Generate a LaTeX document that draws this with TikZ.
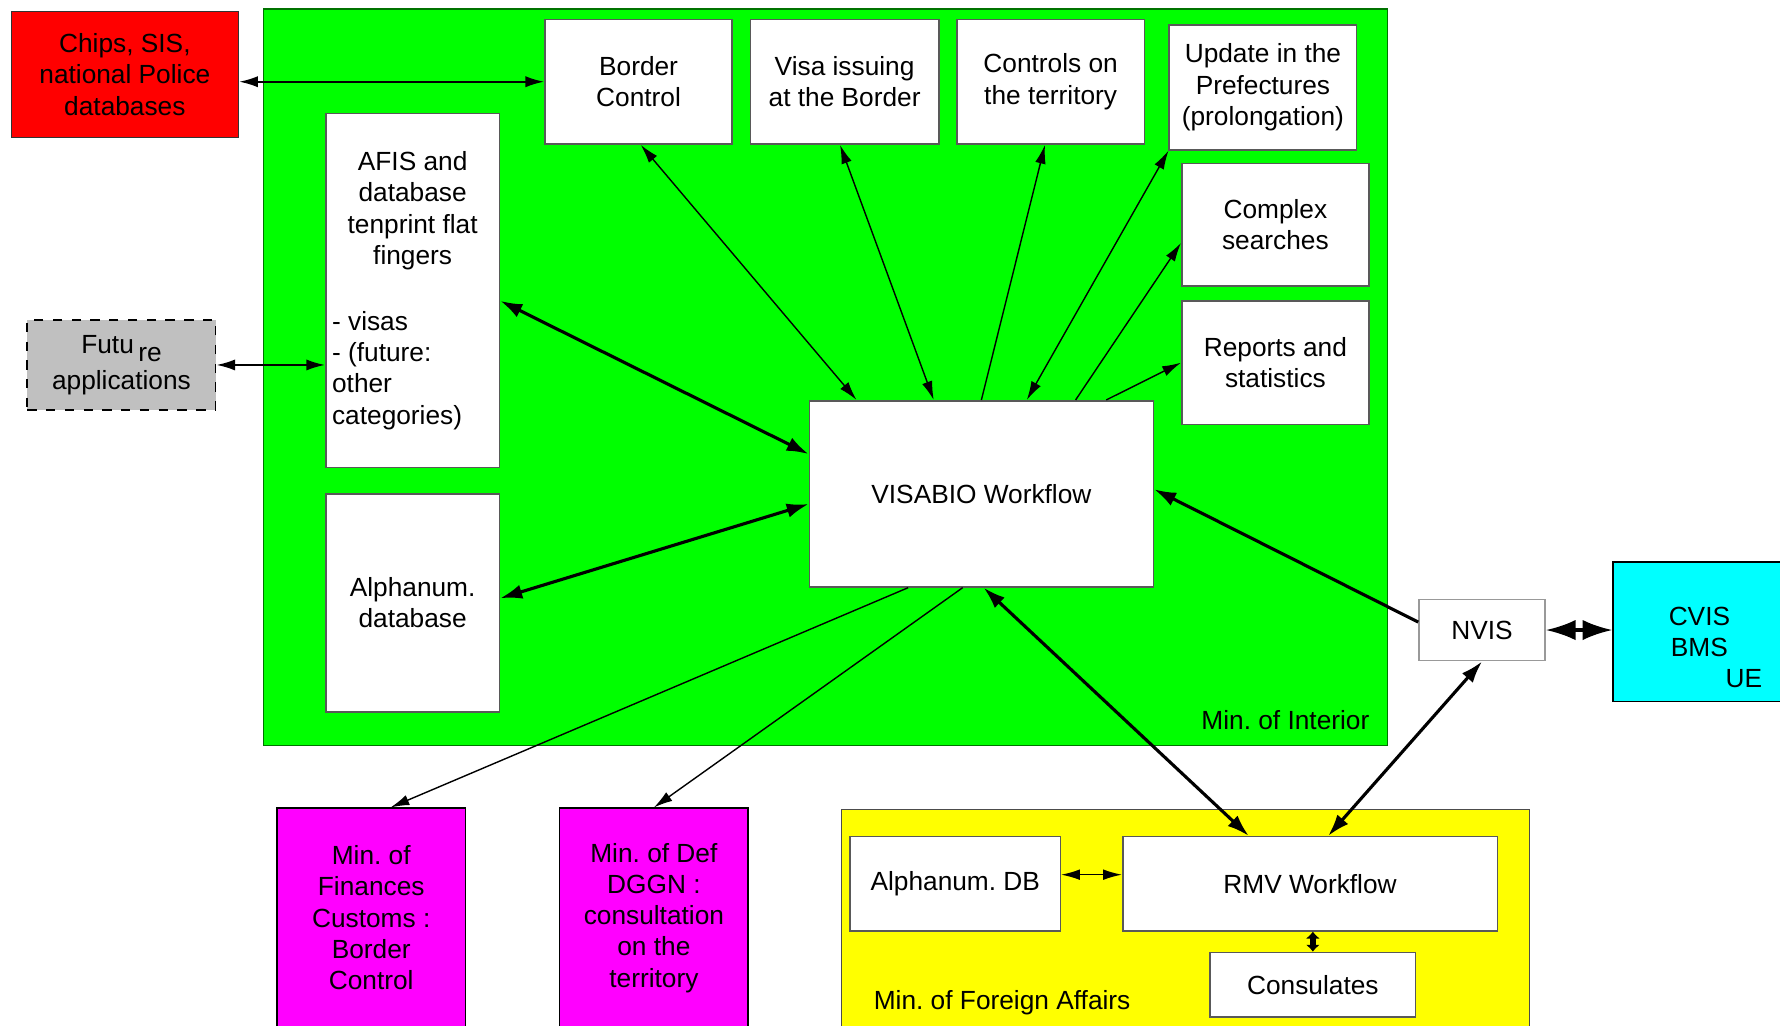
\documentclass[tikz,border=0pt]{standalone}
\usepackage{fontspec}
\setmainfont{Liberation Sans}
\usepackage{tikz}
\usetikzlibrary{arrows.meta,positioning,calc}
\definecolor{intGreen}{RGB}{0,255,0}
\definecolor{maeYellow}{RGB}{255,255,0}
\definecolor{polRed}{RGB}{255,0,0}
\definecolor{defMagenta}{RGB}{255,0,255}
\definecolor{ueCyan}{RGB}{0,255,255}
\definecolor{futGray}{RGB}{192,192,192}
\newcommand{\pxl}{0.3629pt}
\frenchspacing

\begin{document}
\begin{tikzpicture}[x=\pxl,y=-\pxl,
font=\fontsize{8.4}{10}\selectfont,
box/.style={draw=black!65,fill=white,align=center,inner sep=2pt,line width=0.5pt},
sz/.style 2 args={minimum width=#1*\pxl,minimum height=#2*\pxl},
dbl/.style={{Latex[length=6pt,width=3.4pt]}-{Latex[length=6pt,width=3.4pt]},line width=0.45pt},
sgl/.style={-{Latex[length=6pt,width=3.4pt]},line width=0.45pt},
mid/.style={{Latex[length=6pt,width=3.6pt]}-{Latex[length=6pt,width=3.6pt]},line width=0.6pt},
thk/.style={{Latex[length=7pt,width=4.6pt]}-{Latex[length=7pt,width=4.6pt]},line width=1pt},
thksgl/.style={-{Latex[length=7pt,width=4.6pt]},line width=1pt},
bigdbl/.style={{Latex[length=9.5pt,width=6.5pt]}-{Latex[length=9.5pt,width=6.5pt]},line width=1pt},
shortdbl/.style={{Latex[length=2.2pt,width=4.6pt]}-{Latex[length=2.2pt,width=4.6pt]},line width=2pt}
]
\useasboundingbox (0,0) rectangle (1568,903);
\clip (0,0) rectangle (1568,903);
\filldraw[fill=intGreen,draw=green!45!black] (232,8) rectangle (1222,657);
\node[anchor=east] (lblint) at (1216,634) {Min. of Interior};
\filldraw[fill=maeYellow,draw=black!70] (741,713) rectangle (1347,915);
\node[anchor=west] (lblmae) at (760,883) {Min. of Foreign Affairs};

\node[box,fill=polRed,draw=black!80,sz={200}{111}] (red) at (110,65.5) {Chips, SIS,\\national Police\\databases};
\node[box,fill=futGray,draw=black,dashed,sz={166}{79}] (future) at (107,321.5) {Futu\,\raisebox{-0.6ex}{re}\\[1.5pt]applications};
\node[box,sz={153}{312},text width=51.5pt,align=none] (afis) at (363.5,256) {{\centering AFIS and\\database\\tenprint flat\\fingers\par}\vspace{11pt}{\raggedright - visas\\- (future:\\other\\categories)\par}};
\node[box,sz={153}{192}] (alpha) at (363.5,531) {Alphanum.\\database};
\node[box,sz={165}{110}] (border) at (562.5,72) {Border\\Control};
\node[box,sz={166}{110}] (visa) at (744,72) {Visa issuing\\at the Border};
\node[box,sz={165}{110}] (controls) at (925.5,72) {Controls on\\the territory};
\node[box,sz={165}{110}] (update) at (1112.5,77) {Update in the\\Prefectures\\(prolongation)};
\node[box,sz={165}{108}] (complex) at (1123.5,198) {Complex\\searches};
\node[box,sz={165}{109}] (reports) at (1123.5,319.5) {Reports and\\statistics};
\node[box,sz={303}{164}] (vis) at (864.5,435) {VISABIO Workflow};
\node[box,draw=black!40,sz={111}{54}] (nvis) at (1305.5,555) {NVIS};
\node[box,fill=ueCyan,draw=black,sz={152}{123}] (cvis) at (1497,556.5) {CVIS\\BMS};
\node[anchor=east] (ue) at (1562,598) {UE};
\node[box,fill=defMagenta,draw=black,sz={166}{193}] (fin) at (327,808.5) {Min. of\\Finances\\Customs :\\Border\\Control};
\node[box,fill=defMagenta,draw=black,sz={166}{193}] (def) at (576,808.5) {Min. of Def\\DGGN :\\consultation\\on the\\territory};
\node[box,sz={185}{83}] (adb) at (841.5,778.5) {Alphanum. DB};
\node[box,sz={330}{83}] (rmv) at (1154,778.5) {RMV Workflow};
\node[box,sz={181}{57}] (consul) at (1156.5,867.5) {Consulates};

\draw[mid] (border.west -| red.east) -- (border.west);
\draw[mid] (future.east) -- (future.east -| afis.west);
\draw[thk] ($(afis.east)+(0,9)$) -- ($(vis.west)+(0,-35)$);
\draw[thk] ($(alpha.east)+(0,-4)$) -- ($(vis.west)+(0,9)$);
\draw[dbl] ($(border.south)+(2,0)$) -- ($(vis.north)+(-110,0)$);
\draw[dbl] ($(visa.south)+(-4,0)$) -- ($(vis.north)+(-42,0)$);
\draw[sgl] (vis.north) -- ($(controls.south)+(-5,0)$);
\draw[dbl] (update.south west) -- ($(vis.north)+(40,0)$);
\draw[sgl] ($(vis.north)+(83,0)$) -- ($(complex.west)+(0,16)$);
\draw[sgl] ($(vis.north)+(110,0)$) -- (reports.west);
\draw[thksgl] ($(nvis.west)+(0,-7)$) -- ($(vis.east)+(0,-4)$);
\draw[thk] ($(vis.south)+(2,0)$) -- ($(rmv.north)+(-54,0)$);
\draw[thk] ($(rmv.north)+(16,0)$) -- (nvis.south);
\foreach \dx/\tg/\ex in {-64.5/fin/17,-16.5/def/0}
\draw[sgl] ($(vis.south)+(\dx,0)$) -- ($(\tg.north)+(\ex,0)$);
\draw[bigdbl] (nvis.east) -- (nvis.east -| cvis.west);
\draw[dbl] ($(adb.east)+(0,-8)$) -- ($(rmv.west)+(0,-8)$);
\draw[shortdbl] (rmv.south -| consul.north) -- (consul.north);
\end{tikzpicture}
\end{document}
